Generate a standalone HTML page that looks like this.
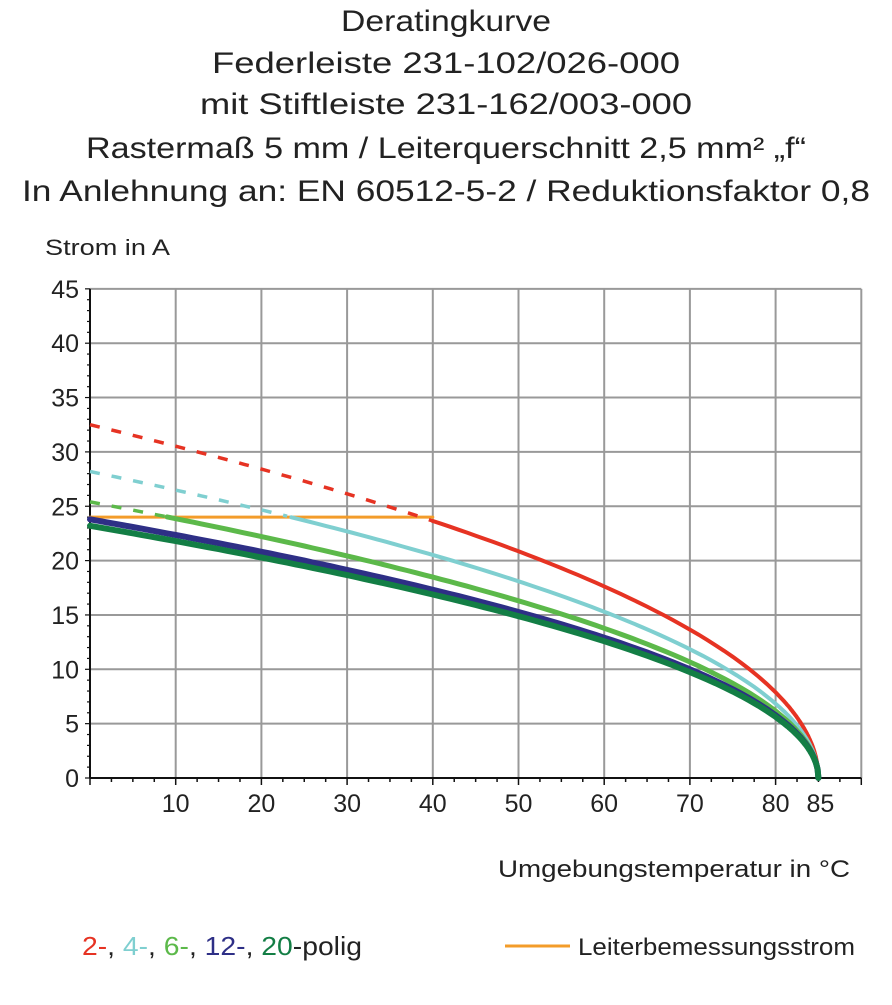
<!DOCTYPE html>
<html><head><meta charset="utf-8"><style>
body{margin:0;background:#fff;}
svg text{font-family:"Liberation Sans",sans-serif;fill:#222;}
</style></head><body>
<svg id="s" width="892" height="1000" xmlns="http://www.w3.org/2000/svg">
<g font-size="30" text-anchor="middle" lengthAdjust="spacingAndGlyphs">
<text x="446" y="31" textLength="210" lengthAdjust="spacingAndGlyphs">Deratingkurve</text>
<text x="446" y="73" textLength="468" lengthAdjust="spacingAndGlyphs">Federleiste 231-102/026-000</text>
<text x="446" y="114" textLength="492" lengthAdjust="spacingAndGlyphs">mit Stiftleiste 231-162/003-000</text>
<text x="446" y="158" textLength="720" lengthAdjust="spacingAndGlyphs">Rastermaß 5 mm / Leiterquerschnitt 2,5 mm² „f“</text>
<text x="446" y="201" textLength="848" lengthAdjust="spacingAndGlyphs">In Anlehnung an: EN 60512-5-2 / Reduktionsfaktor 0,8</text>
</g>
<text x="45" y="255" font-size="22" textLength="125" lengthAdjust="spacingAndGlyphs">Strom in A</text>
<g id="grid" stroke="#999" stroke-width="2" fill="none"></g>
<g id="ax" stroke="#111" stroke-width="2"></g>
<g id="lbl" font-size="25"></g>
<g id="curves" fill="none" stroke-linecap="round"></g>
<text x="498" y="877" font-size="24" textLength="352" lengthAdjust="spacingAndGlyphs">Umgebungstemperatur in °C</text>
<text x="82" y="955" font-size="26" textLength="280" lengthAdjust="spacingAndGlyphs"><tspan fill="#e63323">2-</tspan><tspan>, </tspan><tspan fill="#7fcfd0">4-</tspan><tspan>, </tspan><tspan fill="#5cb94a">6-</tspan><tspan>, </tspan><tspan fill="#2e2f86">12-</tspan><tspan>, </tspan><tspan fill="#137e45">20</tspan><tspan>-polig</tspan></text>
<line x1="505" y1="946" x2="570" y2="946" stroke="#f39c2a" stroke-width="3"/>
<text x="578" y="955" font-size="24" textLength="277" lengthAdjust="spacingAndGlyphs">Leiterbemessungsstrom</text>
</svg>
<script>
const NS="http://www.w3.org/2000/svg";
const X=t=>90+t*8.57, Y=a=>778-a*10.87;
function el(p,tag,at,txt){const e=document.createElementNS(NS,tag);for(const k in at)e.setAttribute(k,at[k]);if(txt!==undefined)e.textContent=txt;document.getElementById(p).appendChild(e);return e;}
for(let t=10;t<=90;t+=10)el("grid","line",{x1:X(t),y1:Y(45),x2:X(t),y2:Y(0)});
for(let a=5;a<=45;a+=5)el("grid","line",{x1:X(0),y1:Y(a),x2:X(90),y2:Y(a)});
el("ax","line",{x1:X(0),y1:Y(0),x2:X(90),y2:Y(0)});
el("ax","line",{x1:X(0),y1:Y(0),x2:X(0),y2:Y(45)});
for(let t=0;t<=90;t+=2.5)el("ax","line",{x1:X(t),y1:Y(0),x2:X(t),y2:Y(0)+(t%10==0?7:4),"stroke-width":1.5});
for(let a=0;a<=45;a+=1)el("ax","line",{x1:X(0),y1:Y(a),x2:X(0)-(a%5==0?5:3),y2:Y(a),"stroke-width":1.2});
for(let a=0;a<=45;a+=5)el("lbl","text",{x:79,y:Y(a)+9,"text-anchor":"end"},a);
[10,20,30,40,50,60,70,80].forEach(t=>el("lbl","text",{x:X(t),y:812,"text-anchor":"middle"},t));
el("lbl","text",{x:X(85)+2,y:812,"text-anchor":"middle"},85);
function pts(I0,t0,t1){let s=[];for(let t=t0;t<=t1+1e-9;t+=(t>80?0.1:1)){const v=I0*Math.sqrt(Math.max(0,(85-t)/85));s.push(X(t).toFixed(1)+","+Y(v).toFixed(1));}return s.join(" ");}
el("curves","line",{x1:X(0),y1:Y(24),x2:X(40),y2:Y(24),stroke:"#f39c2a","stroke-width":3});
const C=[[32.5,"#e63323",40,4],[28.2,"#7fcfd0",23.5,4],[25.4,"#5cb94a",9,5],[23.8,"#2e2f86",0,6],[23.2,"#137e45",0,6]];
C.forEach(([I,c,tb,w])=>{
 if(tb>0)el("curves","polyline",{points:pts(I,0,tb),stroke:c,"stroke-width":3.5,"stroke-dasharray":"10 12","stroke-linecap":"butt"});
 el("curves","polyline",{points:pts(I,tb,85),stroke:c,"stroke-width":w});
});
</script>
</body></html>
